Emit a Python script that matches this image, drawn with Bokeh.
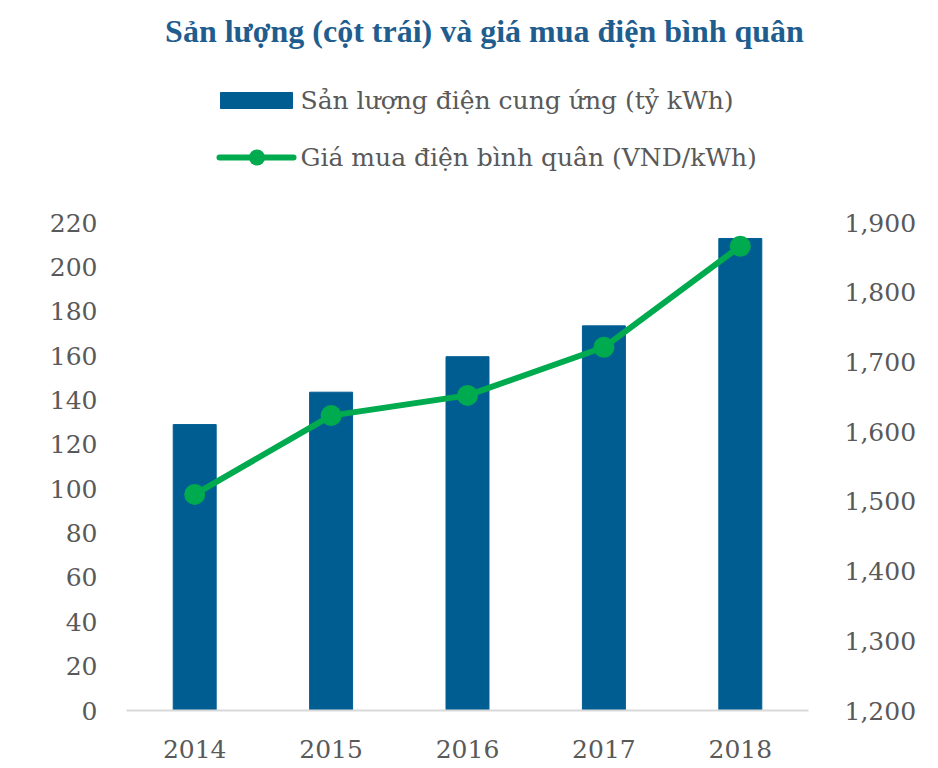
from bokeh.core.properties import value
from bokeh.embed import file_html
from bokeh.resources import INLINE
from bokeh.plotting import figure
from bokeh.models import (ColumnDataSource, Range1d, LinearAxis, FixedTicker,
                          NumeralTickFormatter)

# data
years = ["2014", "2015", "2016", "2017", "2018"]
output_bn_kwh = [128.9, 143.5, 159.5, 173.4, 212.8]   # Sản lượng điện cung ứng (tỷ kWh)
price_vnd_kwh = [1510, 1623, 1652, 1721, 1866]        # Giá mua điện bình quân (VND/kWh)
left_ticks = list(range(0, 221, 20))
right_ticks = list(range(1200, 1901, 100))

title = "Sản lượng (cột trái) và giá mua điện bình quân"
bar_label = "Sản lượng điện cung ứng (tỷ kWh)"
line_label = "Giá mua điện bình quân (VND/kWh)"

BLUE = "#005D92"
GREEN = "#00AA4E"
GREY = "#595959"
TITLE_BLUE = "#1F5D8F"
FONT = "DejaVu Serif"

W, H = 938, 768
LEFT, RIGHT, BOTTOM = 126, 808, 710   # frame edges in page pixels
TOP_TICK = 222                        # pixel row of the 220 / 1,900 ticks

# the frame runs up to the top of the page so that title and legend can sit in it;
# the value ranges are stretched so the 0..220 ticks land where the reference has them
stretch = BOTTOM / (BOTTOM - TOP_TICK)

pos = list(range(len(years)))
source = ColumnDataSource(dict(x=pos, output=output_bn_kwh, price=price_vnd_kwh))

p = figure(width=W, height=H, x_range=Range1d(-0.5, len(years) - 0.5),
           y_range=Range1d(0, 220 * stretch),
           output_backend="svg", toolbar_location=None, tools="",
           min_border_left=LEFT, min_border_right=W - RIGHT,
           min_border_top=0, min_border_bottom=H - BOTTOM)
p.outline_line_color = None
p.grid.grid_line_color = None
p.extra_y_ranges = {"price": Range1d(1200, 1200 + 700 * stretch),
                    "pxy": Range1d(BOTTOM, 0)}
p.extra_x_ranges = {"pxx": Range1d(LEFT, RIGHT)}

p.vbar(x="x", top="output", width=0.315, color=BLUE, source=source)
p.line(x="x", y="price", y_range_name="price", line_color=GREEN,
       line_width=6, source=source)
p.scatter(x="x", y="price", y_range_name="price", size=21,
          fill_color=GREEN, line_color=None, source=source)

# axes
p.yaxis.ticker = FixedTicker(ticks=left_ticks)
p.yaxis.axis_line_color = None
p.yaxis.major_label_standoff = 23

right = LinearAxis(y_range_name="price", ticker=FixedTicker(ticks=right_ticks),
                   formatter=NumeralTickFormatter(format="0,0"),
                   axis_line_color=None, major_label_standoff=30)
p.add_layout(right, "right")

p.xaxis.ticker = FixedTicker(ticks=pos)
p.xaxis.major_label_overrides = dict(zip(pos, years))
p.xaxis.axis_line_color = "#D9D9D9"
p.xaxis.axis_line_width = 2
p.xaxis.major_label_standoff = 23

for ax in p.yaxis + p.xaxis:
    ax.major_tick_line_color = None
    ax.minor_tick_line_color = None
    ax.major_label_text_font = FONT
    ax.major_label_text_font_size = "25px"
    ax.major_label_text_color = GREY

# title
p.text(x=[484], y=[30], text=[title], x_range_name="pxx", y_range_name="pxy",
       text_font=value("Liberation Serif"), text_font_style="bold",
       text_font_size="32px", text_color=TITLE_BLUE,
       text_align="center", text_baseline="middle")

# legend
p.quad(left=[220], right=[292], top=[92], bottom=[108],
       x_range_name="pxx", y_range_name="pxy", color=BLUE)
p.line(x=[219, 293], y=[157, 157], x_range_name="pxx", y_range_name="pxy",
       line_color=GREEN, line_width=6, line_cap="round")
p.scatter(x=[256.5], y=[157], x_range_name="pxx", y_range_name="pxy",
          size=16, fill_color=GREEN, line_color=None)
p.text(x=[300, 300], y=[100, 157], text=[bar_label, line_label],
       x_range_name="pxx", y_range_name="pxy",
       text_font=value(FONT), text_font_size="25px", text_color=GREY,
       text_baseline="middle")

open("out.html", "w").write(file_html(p, INLINE))
